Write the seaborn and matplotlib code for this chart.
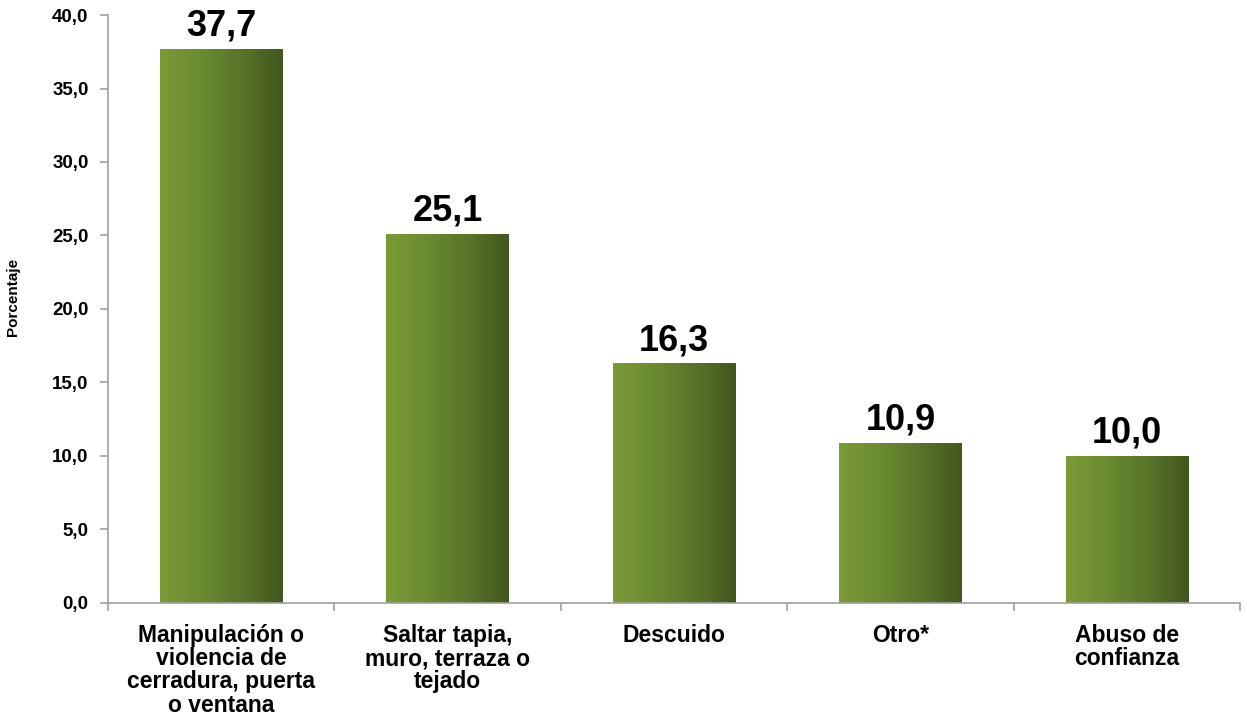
import numpy as np
import pandas as pd
import matplotlib
matplotlib.use('Agg')
import matplotlib.pyplot as plt
import seaborn as sns
from matplotlib.colors import LinearSegmentedColormap

categorias = ['Manipulación o\nviolencia de\ncerradura, puerta\no ventana',
              'Saltar tapia,\nmuro, terraza o\ntejado',
              'Descuido',
              'Otro*',
              'Abuso de\nconfianza']
porcentaje = [37.7, 25.1, 16.3, 10.9, 10.0]
yticks = [0, 5, 10, 15, 20, 25, 30, 35, 40]

df = pd.DataFrame({'cat': categorias, 'pct': porcentaje})

sns.set_style('white')
plt.rcParams['font.family'] = ['Liberation Sans', 'DejaVu Sans']
plt.rcParams['text.color'] = 'black'
plt.rcParams['xtick.color'] = '#a0a0a0'
plt.rcParams['ytick.color'] = '#a0a0a0'
plt.rcParams['xtick.labelcolor'] = 'black'
plt.rcParams['ytick.labelcolor'] = 'black'
plt.rcParams['axes.labelcolor'] = 'black'

fig = plt.figure(figsize=(12.47, 7.16), dpi=100)
ax = fig.add_axes([0.0866, 0.158, 0.9078, 0.821])

sns.barplot(x='cat', y='pct', data=df, color='#6b8a2e', width=0.54, ax=ax,
            saturation=1)

# gradiente horizontal en cada barra
cmap = LinearSegmentedColormap.from_list('verde', ['#7b9b37', '#6b8b31', '#587429', '#43561e'])
grad = np.linspace(0, 1, 256).reshape(1, -1)
for bar in ax.patches:
    x0, y0 = bar.get_x(), bar.get_y()
    w, h = bar.get_width(), bar.get_height()
    im = ax.imshow(grad, cmap=cmap, aspect='auto', extent=[x0, x0 + w, y0, y0 + h],
                   zorder=bar.get_zorder() + 0.1)
    im.set_clip_path(bar)
    bar.set_facecolor('none')
    bar.set_edgecolor('none')

for i, v in enumerate(porcentaje):
    ax.text(i, v + 0.35, f'{v:.1f}'.replace('.', ','), ha='center', va='bottom',
            fontsize=26, fontweight='bold')

ax.set_xlim(-0.5, len(categorias) - 0.5)
ax.set_ylim(0, 40)
ax.set_yticks(yticks)
ax.set_yticklabels([f'{t:.1f}'.replace('.', ',') for t in yticks],
                   fontsize=13.5, fontweight='bold')
ax.set_xticks(range(len(categorias)))
ax.set_xticklabels(categorias, fontsize=16.5, fontweight='bold', linespacing=1.02)
ax.set_xticks(np.arange(-0.5, len(categorias)), minor=True)
ax.tick_params(axis='x', which='major', bottom=False, length=0, pad=15)
ax.tick_params(axis='x', which='minor', bottom=True, length=6, width=1.2,
               direction='out')
ax.tick_params(axis='y', left=True, length=6, width=1.2, direction='out', pad=8)
ax.set_xlabel('')
ax.set_ylabel('Porcentaje', fontsize=11, fontweight='bold',
              family=['Liberation Sans Narrow', 'Liberation Sans'])
ax.yaxis.set_label_coords(-0.078, 0.52)

for s in ['top', 'right']:
    ax.spines[s].set_visible(False)
for s in ['left', 'bottom']:
    ax.spines[s].set_color('#a0a0a0')
    ax.spines[s].set_linewidth(1.2)

fig.savefig('out.png', dpi=100)
